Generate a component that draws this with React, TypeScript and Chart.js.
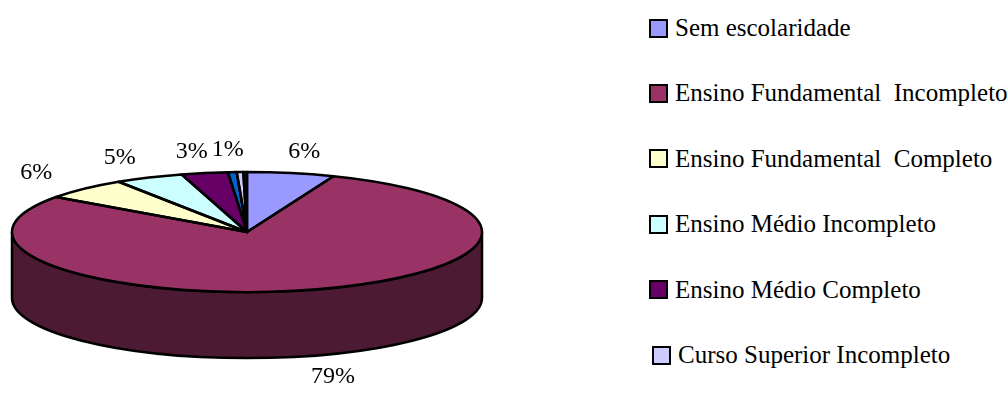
import React, { useEffect, useRef } from "react";
import { Chart, registerables } from "chart.js";

Chart.register(...registerables);

const categories = [
  "Sem escolaridade",
  "Ensino Fundamental  Incompleto",
  "Ensino Fundamental  Completo",
  "Ensino Médio Incompleto",
  "Ensino Médio Completo",
  "Curso Superior Incompleto",
  "Curso Superior Completo",
  "Pós-graduação",
];
const values = [6.0, 78.9, 5.9, 4.7, 3.2, 0.6, 0.45, 0.25];
const sliceColors = ["#9999FF", "#993366", "#FFFFCC", "#CCFFFF", "#660066", "#0066CC", "#CCCCFF", "#000080"];
const legendCount = 6;
const legendSwatches = ["#9999FF", "#993366", "#FFFFCC", "#CCFFFF", "#660066", "#CCCCFF"];

const FONT = "'Liberation Serif', 'Times New Roman', serif";
const GEOM = { cx: 247, cy: 232, rx: 235, ry: 60, depth: 66, labelRx: 305, labelRy: 82 };

function shade(hex: string, f: number): string {
  const n = parseInt(hex.slice(1), 16);
  const r = Math.round(((n >> 16) & 255) * f);
  const g = Math.round(((n >> 8) & 255) * f);
  const b = Math.round((n & 255) * f);
  return `rgb(${r},${g},${b})`;
}

const pie3d = {
  id: "pie3d",
  beforeDatasetsDraw(chart: any) {
    const arcs = chart.getDatasetMeta(0).data;
    if (!arcs.length) return;
    const ctx = chart.ctx as CanvasRenderingContext2D;
    const { cx, cy, rx, ry, depth } = GEOM;
    ctx.save();
    ctx.lineWidth = 2.5;
    ctx.strokeStyle = "#000";
    ctx.lineJoin = "round";
    arcs.forEach((arc: any, i: number) => {
      const s = arc.startAngle;
      const e = arc.endAngle;
      for (const off of [-2 * Math.PI, 0, 2 * Math.PI]) {
        const a = Math.max(s, off);
        const b = Math.min(e, off + Math.PI);
        if (b <= a) continue;
        ctx.beginPath();
        ctx.ellipse(cx, cy, rx, ry, 0, a, b);
        ctx.ellipse(cx, cy + depth, rx, ry, 0, b, a, true);
        ctx.closePath();
        ctx.fillStyle = shade(sliceColors[i], 0.5);
        ctx.fill();
        ctx.stroke();
      }
    });
    ctx.restore();
    const R = arcs[0].outerRadius;
    const ax = arcs[0].x;
    const ay = arcs[0].y;
    ctx.save();
    ctx.translate(cx, cy);
    ctx.scale(rx / R, ry / R);
    ctx.translate(-ax, -ay);
  },
  afterDatasetsDraw(chart: any) {
    const arcs = chart.getDatasetMeta(0).data;
    if (!arcs.length) return;
    const ctx = chart.ctx as CanvasRenderingContext2D;
    ctx.restore();
    const { cx, cy, rx, ry, depth, labelRx, labelRy } = GEOM;
    ctx.save();
    ctx.lineWidth = 2.5;
    ctx.strokeStyle = "#000";
    ctx.lineJoin = "round";
    arcs.forEach((arc: any) => {
      ctx.beginPath();
      ctx.moveTo(cx, cy);
      ctx.ellipse(cx, cy, rx, ry, 0, arc.startAngle, arc.endAngle);
      ctx.closePath();
      ctx.stroke();
    });
    const data = chart.data.datasets[0].data as number[];
    const total = data.reduce((a, b) => a + b, 0);
    ctx.fillStyle = "#000";
    ctx.font = `24px ${FONT}`;
    ctx.textAlign = "center";
    ctx.textBaseline = "middle";
    arcs.forEach((arc: any, i: number) => {
      const pct = Math.round((data[i] / total) * 100);
      if (pct < 1) return;
      const mid = (arc.startAngle + arc.endAngle) / 2;
      const sn = Math.sin(mid);
      const x = cx + labelRx * Math.cos(mid);
      const y = cy + labelRy * sn + (sn > 0 ? depth : 0);
      ctx.fillText(`${pct}%`, x, y);
    });
    ctx.restore();
  },
};

export default function App() {
  const canvasRef = useRef<HTMLCanvasElement | null>(null);

  useEffect(() => {
    if (!canvasRef.current) return;
    const chart = new Chart(canvasRef.current, {
      type: "pie",
      data: {
        labels: categories,
        datasets: [
          {
            data: values,
            backgroundColor: sliceColors,
            borderWidth: 0,
            clip: false as any,
          },
        ],
      },
      options: {
        animation: false,
        responsive: true,
        maintainAspectRatio: false,
        layout: { padding: 0 },
        plugins: {
          legend: { display: false },
          tooltip: { enabled: false },
        },
      },
      plugins: [pie3d],
    });
    return () => chart.destroy();
  }, []);

  return (
    <div style={{ position: "relative", width: 1007, height: 394, background: "#fff", overflow: "hidden" }}>
      <style>{"body{margin:0;}"}</style>
      <div style={{ position: "absolute", left: 0, top: 0, width: 640, height: 394 }}>
        <canvas ref={canvasRef} />
      </div>
      {categories.slice(0, legendCount).map((name, i) => (
        <div
          key={name}
          style={{
            position: "absolute",
            left: i === legendCount - 1 ? 652 : 649,
            top: 28 + i * 65.4 - 14,
            height: 28,
            display: "flex",
            alignItems: "center",
            fontFamily: FONT,
            fontSize: 25,
            whiteSpace: "pre",
            color: "#000",
          }}
        >
          <span
            style={{
              display: "inline-block",
              width: 15,
              height: 15,
              border: "2px solid #000",
              background: legendSwatches[i],
              marginRight: 7,
            }}
          />
          <span>{name}</span>
        </div>
      ))}
    </div>
  );
}
